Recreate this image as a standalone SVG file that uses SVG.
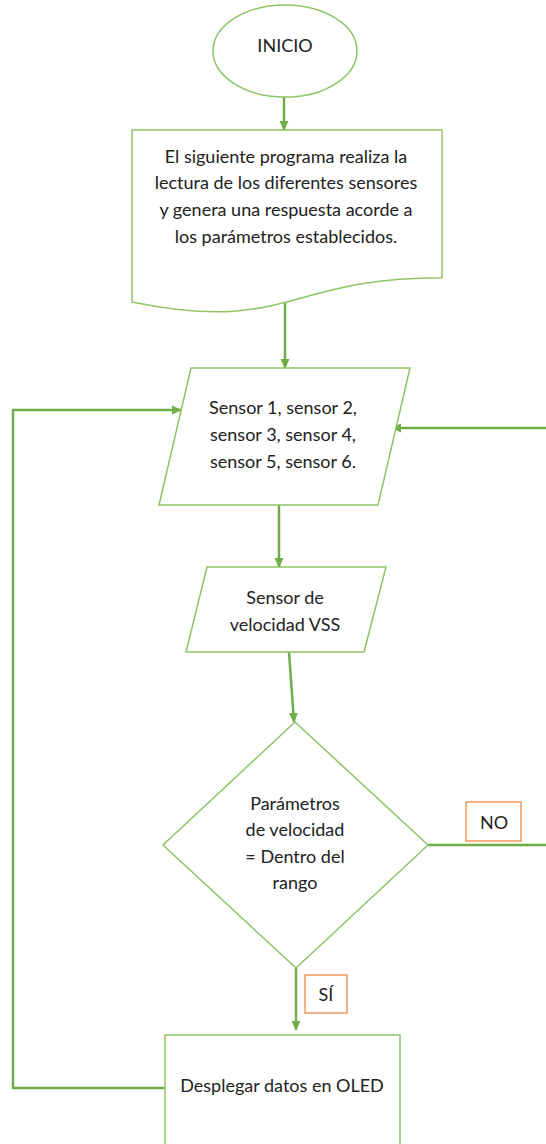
<svg xmlns="http://www.w3.org/2000/svg" width="546" height="1144" viewBox="0 0 546 1144">
<style>
.shape{fill:#fff;stroke:#8DC466;stroke-width:1.5}
.conn{fill:none;stroke:#70AD47;stroke-width:2.5}
.lbl{fill:#fff;stroke:#ED7D31;stroke-width:1.2}
text{font-family:Lato,"Open Sans",sans-serif;font-size:18px;fill:#222;text-anchor:middle}
</style>
<defs>
<marker id="ah" markerUnits="userSpaceOnUse" markerWidth="10" markerHeight="10" refX="9" refY="5" orient="auto">
<path d="M0,0.5 L10,5 L0,9.5 z" fill="#70AD47"/>
</marker>
</defs>
<rect width="546" height="1144" fill="#fff"/>
<g id="connectors">
<path class="conn" d="M284,97 V130" marker-end="url(#ah)"/>
<path class="conn" d="M285,302 V368" marker-end="url(#ah)"/>
<path class="conn" d="M279,505 V567" marker-end="url(#ah)"/>
<path class="conn" d="M289,652 L294,722" marker-end="url(#ah)"/>
<path class="conn" d="M296,968 V1030" marker-end="url(#ah)"/>
<path class="conn" d="M428,845 H549 V428 H392" marker-end="url(#ah)"/>
<path class="conn" d="M165,1088 H13 V410 H181" marker-end="url(#ah)"/>
</g>
<g id="inicio">
<ellipse class="shape" cx="285" cy="51" rx="72" ry="46"/>
<text x="285" y="52">INICIO</text>
</g>
<g id="descripcion">
<path class="shape" d="M132,130 H442 V277.7 C287,277.7 287,334 132,302 Z"/>
<text x="286" y="163">El siguiente programa realiza la</text>
<text x="286" y="189">lectura de los diferentes sensores</text>
<text x="286" y="216">y genera una respuesta acorde a</text>
<text x="286" y="243">los parámetros establecidos.</text>
</g>
<g id="sensores">
<polygon class="shape" points="191,368 410,368 378,505 159,505"/>
<text x="283" y="414">Sensor 1, sensor 2,</text>
<text x="283" y="441">sensor 3, sensor 4,</text>
<text x="283" y="468">sensor 5, sensor 6.</text>
</g>
<g id="vss">
<polygon class="shape" points="207,567 386,567 364,652 186,652"/>
<text x="285" y="604">Sensor de</text>
<text x="285" y="631">velocidad VSS</text>
</g>
<g id="decision">
<polygon class="shape" points="295,722 428,845 296,968 163,845"/>
<text x="295" y="810">Parámetros</text>
<text x="295" y="836">de velocidad</text>
<text x="295" y="863">= Dentro del</text>
<text x="295" y="889">rango</text>
</g>
<g id="label-no">
<rect class="lbl" x="466" y="802" width="55" height="39"/>
<text x="494" y="829">NO</text>
</g>
<g id="label-si">
<rect class="lbl" x="305" y="975" width="42" height="38"/>
<text x="326" y="1001">SÍ</text>
</g>
<g id="oled">
<rect class="shape" x="165" y="1035" width="235" height="120"/>
<text x="282" y="1092">Desplegar datos en OLED</text>
</g>
</svg>
